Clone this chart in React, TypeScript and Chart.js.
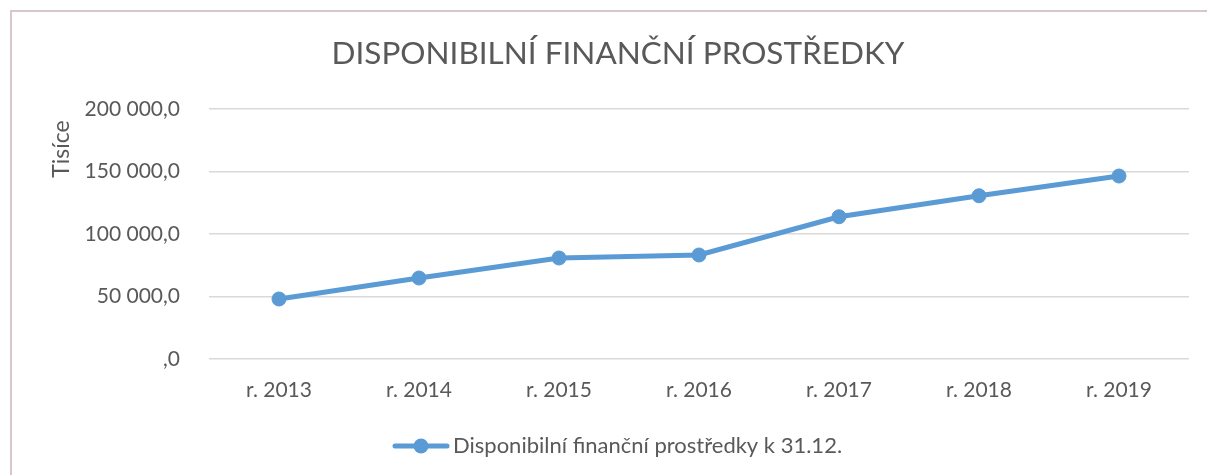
import React, { useEffect, useRef } from "react";
import { Chart, registerables } from "chart.js";

Chart.register(...registerables);

const categories = ["r. 2013", "r. 2014", "r. 2015", "r. 2016", "r. 2017", "r. 2018", "r. 2019"];
const values = [48000, 64800, 80800, 83200, 113800, 130600, 146400];
const yTicks = [0, 50000, 100000, 150000, 200000];
const titleText = "DISPONIBILNÍ FINANČNÍ PROSTŘEDKY";
const seriesLabel = "Disponibilní finanční prostředky k 31.12.";
const axisTitle = "Tisíce";

const BLUE = "#5B9BD5";
const TEXT = "#595959";
const FONT = "Lato, 'Open Sans', sans-serif";

function fmt(v: number): string {
  if (v === 0) return ",0";
  const s = Math.round(v).toString().replace(/\B(?=(\d{3})+(?!\d))/g, " ");
  return s + ",0";
}

const decorPlugin = {
  id: "decor",
  beforeDraw(chart: any) {
    const ctx = chart.ctx;
    ctx.save();
    ctx.fillStyle = "#ffffff";
    ctx.fillRect(0, 0, chart.width, chart.height);
    ctx.strokeStyle = "#d6c8c8";
    ctx.lineWidth = 2;
    ctx.beginPath();
    ctx.moveTo(11, chart.height + 5);
    ctx.lineTo(11, 11);
    ctx.lineTo(chart.width + 5, 11);
    ctx.stroke();
    ctx.restore();
  },
  afterDraw(chart: any) {
    const ctx = chart.ctx;
    const area = chart.chartArea;
    ctx.save();
    // title
    ctx.fillStyle = TEXT;
    ctx.font = `400 31.5px ${FONT}`;
    ctx.textAlign = "center";
    ctx.textBaseline = "middle";
    ctx.fillText(titleText, 618, 54);
    // axis title
    ctx.save();
    ctx.translate(62, area.top + 40);
    ctx.rotate(-Math.PI / 2);
    ctx.font = `23px ${FONT}`;
    ctx.textAlign = "center";
    ctx.textBaseline = "middle";
    ctx.fillText(axisTitle, 0, 0);
    ctx.restore();
    // legend
    const ly = 446;
    ctx.strokeStyle = BLUE;
    ctx.lineWidth = 5;
    ctx.lineCap = "round";
    ctx.beginPath();
    ctx.moveTo(395, ly);
    ctx.lineTo(447, ly);
    ctx.stroke();
    ctx.fillStyle = BLUE;
    ctx.beginPath();
    ctx.arc(421, ly, 7.5, 0, Math.PI * 2);
    ctx.fill();
    ctx.fillStyle = TEXT;
    ctx.font = `22px ${FONT}`;
    ctx.textAlign = "left";
    ctx.textBaseline = "middle";
    ctx.fillText(seriesLabel, 453, ly);
    ctx.restore();
  },
};

export default function App() {
  const ref = useRef<HTMLCanvasElement | null>(null);
  useEffect(() => {
    document.body.style.margin = "0";
    const canvas = ref.current!;
    const chart = new Chart(canvas, {
      type: "line",
      data: {
        labels: categories,
        datasets: [
          {
            label: seriesLabel,
            data: values,
            borderColor: BLUE,
            backgroundColor: BLUE,
            borderWidth: 5,
            pointRadius: 7,
            pointBorderWidth: 1,
            pointBackgroundColor: BLUE,
            pointBorderColor: BLUE,
            tension: 0,
          },
        ],
      },
      options: {
        animation: false,
        responsive: false,
        maintainAspectRatio: false,
        layout: { padding: { left: 0, top: 109, right: 18, bottom: 0 } },
        plugins: {
          legend: { display: false },
          title: { display: false },
          tooltip: { enabled: false },
        },
        scales: {
          x: {
            offset: true,
            grid: { display: false, drawTicks: false },
            border: { display: false },
            ticks: { color: TEXT, font: { size: 21, family: FONT }, padding: 19 },
            afterFit: (s: any) => {
              s.height = 116;
            },
          },
          y: {
            min: 0,
            max: 200000,
            afterBuildTicks: (s: any) => {
              s.ticks = yTicks.map((v) => ({ value: v }));
            },
            grid: { color: "#d9d9d9", lineWidth: 1.5, drawTicks: false },
            border: { display: false },
            ticks: {
              color: TEXT,
              font: { size: 21, family: FONT },
              padding: 29,
              callback: (v: any) => fmt(Number(v)),
            },
            afterFit: (s: any) => {
              s.width = 209;
            },
          },
        },
      },
      plugins: [decorPlugin],
    });
    return () => chart.destroy();
  }, []);
  return (
    <div style={{ width: 1207, height: 475 }}>
      <canvas ref={ref} width={1207} height={475} style={{ display: "block" }} />
    </div>
  );
}
